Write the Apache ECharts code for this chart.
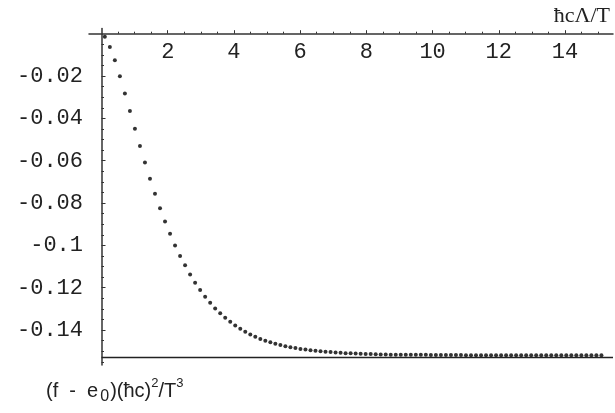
<!DOCTYPE html>
<html>
<head>
<meta charset="utf-8">
<script src="https://cdn.jsdelivr.net/npm/echarts@6/dist/echarts.min.js"></script>
<style>
html,body{margin:0;padding:0;background:#fff;}
#chart{width:615px;height:413px;}
</style>
</head>
<body>
<div id="chart"></div>
<script>
// x values of sampled points (ħcΛ/T)
var xs = [0.100,0.252,0.403,0.555,0.706,0.858,1.009,1.161,1.312,1.464,
1.615,1.767,1.918,2.070,2.221,2.373,2.524,2.676,2.827,2.979,
3.130,3.282,3.433,3.585,3.736,3.888,4.039,4.191,4.342,4.494,
4.645,4.797,4.948,5.100,5.251,5.403,5.554,5.706,5.857,6.009,
6.160,6.312,6.463,6.615,6.766,6.918,7.069,7.221,7.372,7.524,
7.675,7.827,7.978,8.130,8.281,8.433,8.584,8.736,8.887,9.039,
9.190,9.342,9.493,9.645,9.796,9.948,10.099,10.251,10.402,10.554,
10.705,10.857,11.008,11.160,11.311,11.463,11.614,11.766,11.917,12.069,
12.220,12.372,12.523,12.675,12.826,12.978,13.129,13.281,13.432,13.584,
13.735,13.887,14.038,14.190,14.341,14.493,14.644,14.796,14.947,15.099];
// y values (f - e0)(ħc)^2/T^3
var ys = [-0.0014,-0.0063,-0.0126,-0.0201,-0.0283,-0.0365,-0.0449,-0.0531,-0.0609,-0.0685,
-0.0756,-0.0824,-0.0887,-0.0945,-0.1000,-0.1050,-0.1094,-0.1138,-0.1176,-0.1211,
-0.1243,-0.1271,-0.1298,-0.1321,-0.1342,-0.1361,-0.1378,-0.1394,-0.1408,-0.1421,
-0.1432,-0.1442,-0.1450,-0.1458,-0.1465,-0.1471,-0.1476,-0.1481,-0.1485,-0.1489,
-0.1492,-0.1495,-0.1498,-0.1500,-0.1502,-0.1504,-0.1506,-0.1507,-0.1509,-0.1510,
-0.1511,-0.1512,-0.1513,-0.1513,-0.1514,-0.1515,-0.1515,-0.1516,-0.1516,-0.1516,
-0.1517,-0.1517,-0.1517,-0.1517,-0.1517,-0.1518,-0.1518,-0.1518,-0.1518,-0.1518,
-0.1518,-0.1518,-0.1519,-0.1519,-0.1519,-0.1519,-0.1519,-0.1519,-0.1519,-0.1519,
-0.1519,-0.1519,-0.1519,-0.1519,-0.1519,-0.1519,-0.1519,-0.1519,-0.1519,-0.1519,
-0.1519,-0.1519,-0.1519,-0.1519,-0.1519,-0.1519,-0.1519,-0.1519,-0.1519,-0.1519];
var asymptote = -0.1529;
var xMajorTicks = [2,4,6,8,10,12,14];
var xMinorTicks = [0.5,1,1.5,2.5,3,3.5,4.5,5,5.5,6.5,7,7.5,8.5,9,9.5,10.5,11,11.5,12.5,13,13.5,14.5,15];
var yMajorTicks = [-0.14,-0.12,-0.1,-0.08,-0.06,-0.04,-0.02];
var yMinorTicks = [-0.155,-0.15,-0.145,-0.135,-0.13,-0.125,-0.115,-0.11,-0.105,-0.095,-0.09,-0.085,-0.075,-0.07,-0.065,-0.055,-0.05,-0.045,-0.035,-0.03,-0.025,-0.015,-0.01,-0.005];
var xName = 'ħcΛ/T';

var XMIN = -0.378, XMAX = 15.449, YMIN = -0.1565, YMAX = 0, YTOP_EXT = 0.0025;
var axisColor = '#333';
var monoFont = '"Liberation Mono", "DejaVu Sans Mono", monospace';
var sansFont = '"Liberation Sans", Arial, sans-serif';
var plotBox = {left: 89, right: 2, top: 33.7, bottom: 48, containLabel: false};
var extBox = {left: 89, right: 2, top: 28.4, bottom: 48, containLabel: false};

var chart = echarts.init(document.getElementById('chart'), null, {renderer: 'canvas'});
var pts = xs.map(function (x, i) { return [x, ys[i]]; });
var hidden = {show: false};
var noLine = {show: true, onZero: true, lineStyle: {color: axisColor, width: 1, opacity: 0}};

chart.setOption({
  animation: false,
  backgroundColor: '#fff',
  title: [
    {text: xName, right: 0, top: 0,
     textStyle: {fontFamily: '"Liberation Serif", "DejaVu Serif", serif', fontSize: 22, fontWeight: 'normal', color: '#222'}},
    {text: '{n|(f  -  e}{sub|0}{n|)(ħc)}{sup|2}{n|/T}{sup|3}', left: 41, top: 372,
     textStyle: {fontWeight: 'normal', rich: {
       n: {fontFamily: sansFont, fontWeight: 'normal', fontSize: 20, color: '#222', lineHeight: 28, verticalAlign: 'middle'},
       sub: {fontFamily: sansFont, fontWeight: 'normal', fontSize: 16, color: '#222', lineHeight: 28, verticalAlign: 'bottom', padding: [6, 1, 0, 2]},
       sup: {fontFamily: sansFont, fontWeight: 'normal', fontSize: 13, color: '#222', lineHeight: 28, verticalAlign: 'top', padding: [0, 0, 8, 0]}
     }}}
  ],
  grid: [Object.assign({}, plotBox), Object.assign({}, plotBox), Object.assign({}, extBox)],
  xAxis: [
    {type: 'value', gridIndex: 0, min: XMIN, max: XMAX, position: 'top',
     axisLine: {show: true, onZero: false, lineStyle: {color: axisColor, width: 1.5}},
     axisTick: {show: true, inside: false, length: 3.5, customValues: xMajorTicks, lineStyle: {color: axisColor, width: 1}},
     axisLabel: {show: true, inside: true, customValues: xMajorTicks, margin: 7, fontFamily: monoFont, fontSize: 22, color: '#222'},
     splitLine: hidden},
    {type: 'value', gridIndex: 1, min: XMIN, max: XMAX, position: 'top',
     axisLine: {show: false, onZero: false},
     axisTick: {show: true, inside: false, length: 2, customValues: xMinorTicks, lineStyle: {color: axisColor, width: 1}},
     axisLabel: hidden, splitLine: hidden},
    {type: 'value', gridIndex: 2, min: XMIN, max: XMAX, position: 'top',
     axisLine: {show: false, onZero: false}, axisTick: hidden, axisLabel: hidden, splitLine: hidden}
  ],
  yAxis: [
    {type: 'value', gridIndex: 0, min: YMIN, max: YMAX, position: 'left',
     axisLine: noLine,
     axisTick: {show: true, inside: true, length: 4, customValues: yMajorTicks, lineStyle: {color: axisColor, width: 1}},
     axisLabel: {show: true, customValues: yMajorTicks, margin: 6, fontFamily: monoFont, fontSize: 22, color: '#222'},
     splitLine: hidden},
    {type: 'value', gridIndex: 1, min: YMIN, max: YMAX, position: 'left',
     axisLine: noLine,
     axisTick: {show: true, inside: true, length: 2.5, customValues: yMinorTicks, lineStyle: {color: axisColor, width: 1}},
     axisLabel: hidden, splitLine: hidden},
    {type: 'value', gridIndex: 2, min: YMIN, max: YTOP_EXT, position: 'left',
     axisLine: {show: true, onZero: true, lineStyle: {color: axisColor, width: 1.5}},
     axisTick: hidden, axisLabel: hidden, splitLine: hidden}
  ],
  series: [
    {type: 'scatter', xAxisIndex: 0, yAxisIndex: 0, data: pts,
     symbol: 'circle', symbolSize: 4, clip: false,
     itemStyle: {color: '#000'},
     markLine: {silent: true, symbol: 'none', label: {show: false},
       lineStyle: {color: '#222', width: 1.3, type: 'solid'},
       data: [[{coord: [0, asymptote]}, {coord: [XMAX, asymptote]}]]}}
  ]
});
</script>
</body>
</html>
